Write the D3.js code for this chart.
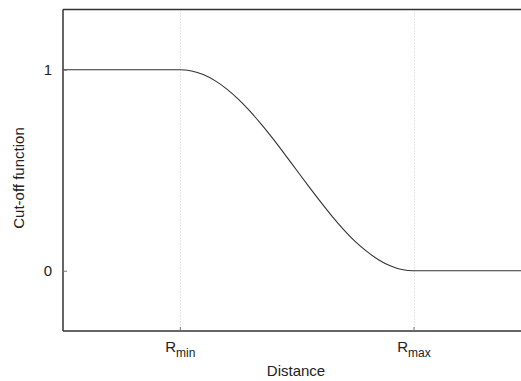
<!DOCTYPE html>
<html>
<head>
<meta charset="utf-8">
<script src="https://cdn.jsdelivr.net/npm/d3@7"></script>
<style>
  body { margin: 0; background: #fff; }
  text { font-family: "Liberation Sans", Arial, sans-serif; fill: #222; }
</style>
</head>
<body>
<svg id="chart" width="521" height="381"></svg>
<script>
// distance (Rmin = 1, Rmax = 2) and read-off cut-off values
var distance = [0.5, 1.0, 1.05, 1.1, 1.15, 1.2, 1.25, 1.3, 1.35, 1.4, 1.45, 1.5,
                1.55, 1.6, 1.65, 1.7, 1.75, 1.8, 1.85, 1.9, 1.95, 2.0, 2.5];
var cutoff = [1, 1, 0.994, 0.976, 0.946, 0.905, 0.854, 0.794, 0.727, 0.655, 0.578, 0.5,
              0.422, 0.346, 0.273, 0.206, 0.146, 0.096, 0.055, 0.025, 0.006, 0, 0];
var xTicks = [1, 2];
var xTickLabels = [["R", "min"], ["R", "max"]];
var yTicks = [0, 1];

var svg = d3.select("#chart"),
    margin = {left: 63, top: 9.5, right: 0, bottom: 50},
    W = 521, H = 381;

var x = d3.scaleLinear().domain([0.5, 2.46]).range([margin.left, W]);
var y = d3.scaleLinear().domain([-0.3, 1.3]).range([331, margin.top]);

// dotted grid at Rmin / Rmax
svg.append("g").selectAll("line")
  .data(xTicks)
  .enter().append("line")
  .attr("x1", function(d){ return Math.round(x(d)) + 0.5; })
  .attr("x2", function(d){ return Math.round(x(d)) + 0.5; })
  .attr("y1", y.range()[1])
  .attr("y2", y.range()[0])
  .attr("stroke", "#ccc")
  .attr("stroke-width", 1)
  .attr("stroke-dasharray", "1,2");

// curve
var pts = distance.map(function(d, i){ return [d, cutoff[i]]; });
svg.append("path")
  .datum(pts)
  .attr("fill", "none")
  .attr("stroke", "#333")
  .attr("stroke-width", 1.1)
  .attr("d", d3.line()
    .x(function(d){ return x(d[0]); })
    .y(function(d){ return y(d[1]); })
    .curve(d3.curveMonotoneX));

// frame: left, top, bottom
var frame = svg.append("g").attr("stroke", "#333").attr("stroke-width", 1.5);
frame.append("line").attr("x1", 63).attr("x2", 63).attr("y1", y.range()[1]).attr("y2", y.range()[0]);
frame.append("line").attr("x1", 63).attr("x2", W).attr("y1", y.range()[1]).attr("y2", y.range()[1]);
frame.append("line").attr("x1", 63).attr("x2", W).attr("y1", y.range()[0]).attr("y2", y.range()[0]);

// y axis (ticks inward)
var yAxis = svg.append("g")
  .attr("transform", "translate(63,0)")
  .call(d3.axisRight(y).tickValues(yTicks).tickSize(4).tickFormat(d3.format("d")));
yAxis.select(".domain").remove();
yAxis.selectAll(".tick line").attr("stroke", "#777");
yAxis.selectAll(".tick text")
  .attr("x", -11)
  .attr("text-anchor", "end")
  .style("font-size", "15px")
  .style("font-family", "Liberation Sans, Arial, sans-serif")
  .attr("fill", "#222");

// x axis (ticks inward)
var xAxis = svg.append("g")
  .attr("transform", "translate(0,331)")
  .call(d3.axisTop(x).tickValues(xTicks).tickSize(4).tickFormat(""));
xAxis.select(".domain").remove();
xAxis.selectAll(".tick line").attr("stroke", "#777");
xAxis.selectAll(".tick").each(function(d, i){
  var t = d3.select(this).append("text")
    .attr("y", 21)
    .attr("text-anchor", "middle")
    .style("font-size", "15px");
  t.append("tspan").text(xTickLabels[i][0]);
  t.append("tspan").attr("dy", 5).style("font-size", "12px").text(xTickLabels[i][1]);
});

// axis labels
svg.append("text")
  .attr("x", 296)
  .attr("y", 376)
  .attr("text-anchor", "middle")
  .style("font-size", "15px")
  .text("Distance");

svg.append("text")
  .attr("transform", "translate(24,178) rotate(-90)")
  .attr("text-anchor", "middle")
  .style("font-size", "15px")
  .text("Cut-off function");
</script>
</body>
</html>
